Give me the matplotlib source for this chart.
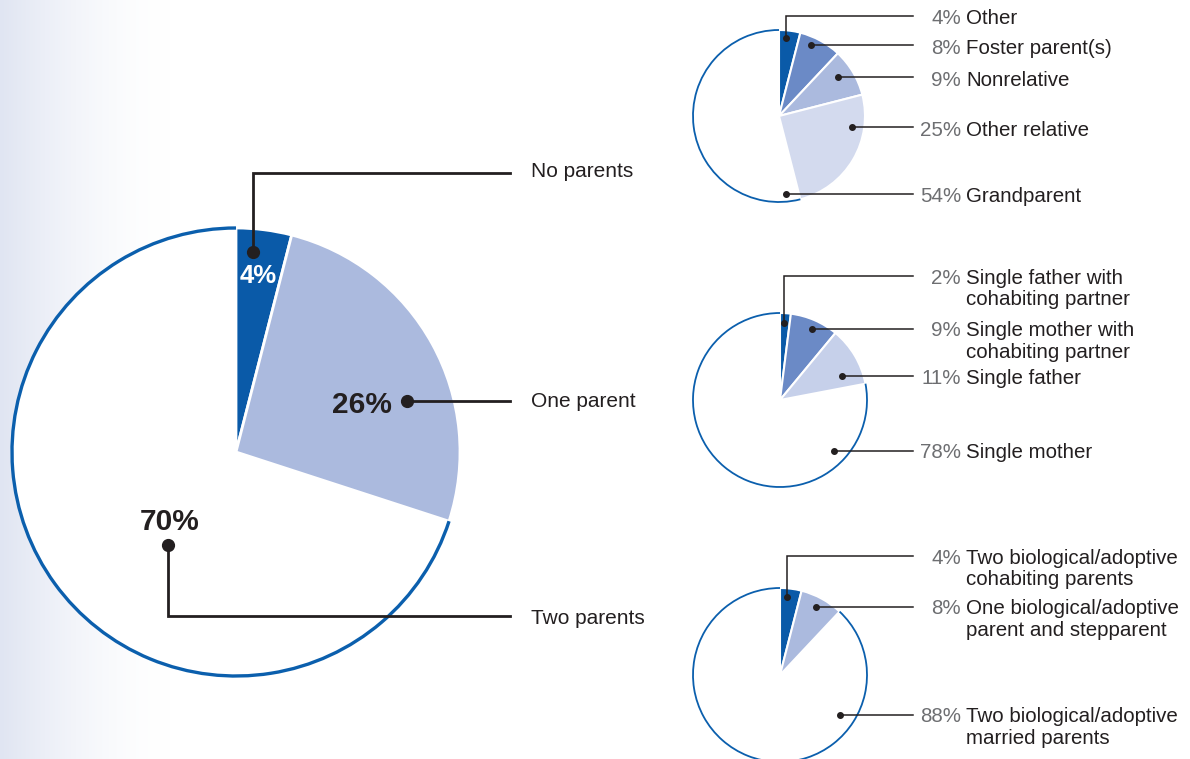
import matplotlib
matplotlib.use('Agg')
import matplotlib.pyplot as plt
from matplotlib.patches import Arc
import numpy as np

plt.rcParams['font.family'] = ['Liberation Sans', 'DejaVu Sans']

W, H = 1190, 759

# data
main_labels = ["No parents", "One parent", "Two parents"]
main_values = [4, 26, 70]

none_labels = ["Other", "Foster parent(s)", "Nonrelative", "Other relative", "Grandparent"]
none_values = [4, 8, 9, 25, 54]

one_labels = ["Single father with\ncohabiting partner", "Single mother with\ncohabiting partner",
              "Single father", "Single mother"]
one_values = [2, 9, 11, 78]

two_labels = ["Two biological/adoptive\ncohabiting parents", "One biological/adoptive\nparent and stepparent",
              "Two biological/adoptive\nmarried parents"]
two_values = [4, 8, 88]

DARK = '#0a5aa8'
MID = '#6b8ac6'
LIGHT = '#abbade'
PALE = '#d3daee'
PALE2 = '#c6d0ea'
OUTLINE = '#0b5fad'
INK = '#231f20'
GREY = '#6d6e71'


def Y(y):
    return H - y


def draw_pie(ax, values, colors, cx, cy, r, edge_lw, arc_lw):
    wedges, _ = ax.pie(values, colors=colors, center=(cx, Y(cy)), radius=r,
                       startangle=90, counterclock=False,
                       wedgeprops=dict(edgecolor='white', linewidth=edge_lw))
    last = wedges[-1]
    last.set_edgecolor('none')
    ax.add_patch(Arc((cx, Y(cy)), 2 * r, 2 * r, theta1=last.theta1, theta2=last.theta2,
                     color=OUTLINE, linewidth=arc_lw, zorder=3))
    return wedges


def leader(ax, pts, lw, ms):
    xs = [p[0] for p in pts]
    ys = [Y(p[1]) for p in pts]
    ax.plot(xs, ys, color=INK, linewidth=lw, solid_joinstyle='miter', zorder=4)
    ax.plot(xs[0], ys[0], 'o', color=INK, markersize=ms, zorder=5)


def small_label(ax, pct, label, y):
    base = y + 7.5
    ax.text(961, Y(base), "%d%%" % pct, color=GREY, fontsize=14.8, ha='right', va='baseline')
    for i, line in enumerate(label.split('\n')):
        ax.text(966, Y(base + i * 21.5), line, color=INK, fontsize=14.8, ha='left', va='baseline')


fig = plt.figure(figsize=(W / 100, H / 100), dpi=100)
ax = fig.add_axes([0, 0, 1, 1])

# background gradient on the left
t = np.linspace(0, 1, 256)
wgt = (1 - t) ** 1.6
c0 = np.array([224, 229, 242]) / 255.
img = c0[None, :] * wgt[:, None] + (1 - wgt[:, None])
ax.imshow(img[None, :, :], extent=[0, 170, 0, H], aspect='auto', interpolation='bilinear', zorder=0)

# main pie
draw_pie(ax, main_values, [DARK, LIGHT, 'white'], 236, 452, 224, 2, 2.4)
leader(ax, [(253, 252), (253, 173), (510, 173)], 2, 8.5)
leader(ax, [(407, 401), (510, 401)], 2, 8.5)
leader(ax, [(168, 545), (168, 616), (510, 616)], 2, 8.5)
for lab, yb in zip(main_labels, [177, 407, 624]):
    ax.text(531, Y(yb), lab, color=INK, fontsize=15, ha='left', va='baseline')
ax.text(258, Y(283), "%d%%" % main_values[0], color='white', fontsize=18.5, fontweight='bold',
        ha='center', va='baseline')
ax.text(362, Y(413), "%d%%" % main_values[1], color=INK, fontsize=21.5, fontweight='bold',
        ha='center', va='baseline')
ax.text(170, Y(530), "%d%%" % main_values[2], color=INK, fontsize=21.5, fontweight='bold',
        ha='center', va='baseline')

# no parents pie
draw_pie(ax, none_values, [DARK, MID, LIGHT, PALE, 'white'], 779, 116, 86, 1.5, 1.3)
none_dots = [(786, 38), (811, 45), (838, 77), (852, 127), (786, 194)]
none_ys = [16, 45, 77, 127, 194]
for (dx, dy), ty, lab, v in zip(none_dots, none_ys, none_labels, none_values):
    if ty != dy:
        leader(ax, [(dx, dy), (dx, ty), (913, ty)], 1.1, 4)
    else:
        leader(ax, [(dx, dy), (913, ty)], 1.1, 4)
    small_label(ax, v, lab, ty + 1)

# one parent pie
draw_pie(ax, one_values, [DARK, MID, PALE2, 'white'], 780, 400, 87, 1.5, 1.3)
one_dots = [(784, 323), (812, 329), (842, 376), (834, 451)]
one_ys = [276, 329, 376, 451]
for (dx, dy), ty, lab, v in zip(one_dots, one_ys, one_labels, one_values):
    if ty != dy:
        leader(ax, [(dx, dy), (dx, ty), (913, ty)], 1.1, 4)
    else:
        leader(ax, [(dx, dy), (913, ty)], 1.1, 4)
    small_label(ax, v, lab, ty)

# two parents pie
draw_pie(ax, two_values, [DARK, LIGHT, 'white'], 780, 675, 87, 1.5, 1.3)
two_dots = [(787, 597), (816, 607), (840, 715)]
two_ys = [556, 607, 715]
for (dx, dy), ty, lab, v in zip(two_dots, two_ys, two_labels, two_values):
    if ty != dy:
        leader(ax, [(dx, dy), (dx, ty), (913, ty)], 1.1, 4)
    else:
        leader(ax, [(dx, dy), (913, ty)], 1.1, 4)
    small_label(ax, v, lab, ty)

ax.set_xlim(0, W)
ax.set_ylim(0, H)
ax.set_aspect('auto')
ax.axis('off')

fig.savefig('out.png', dpi=100, facecolor='white')
